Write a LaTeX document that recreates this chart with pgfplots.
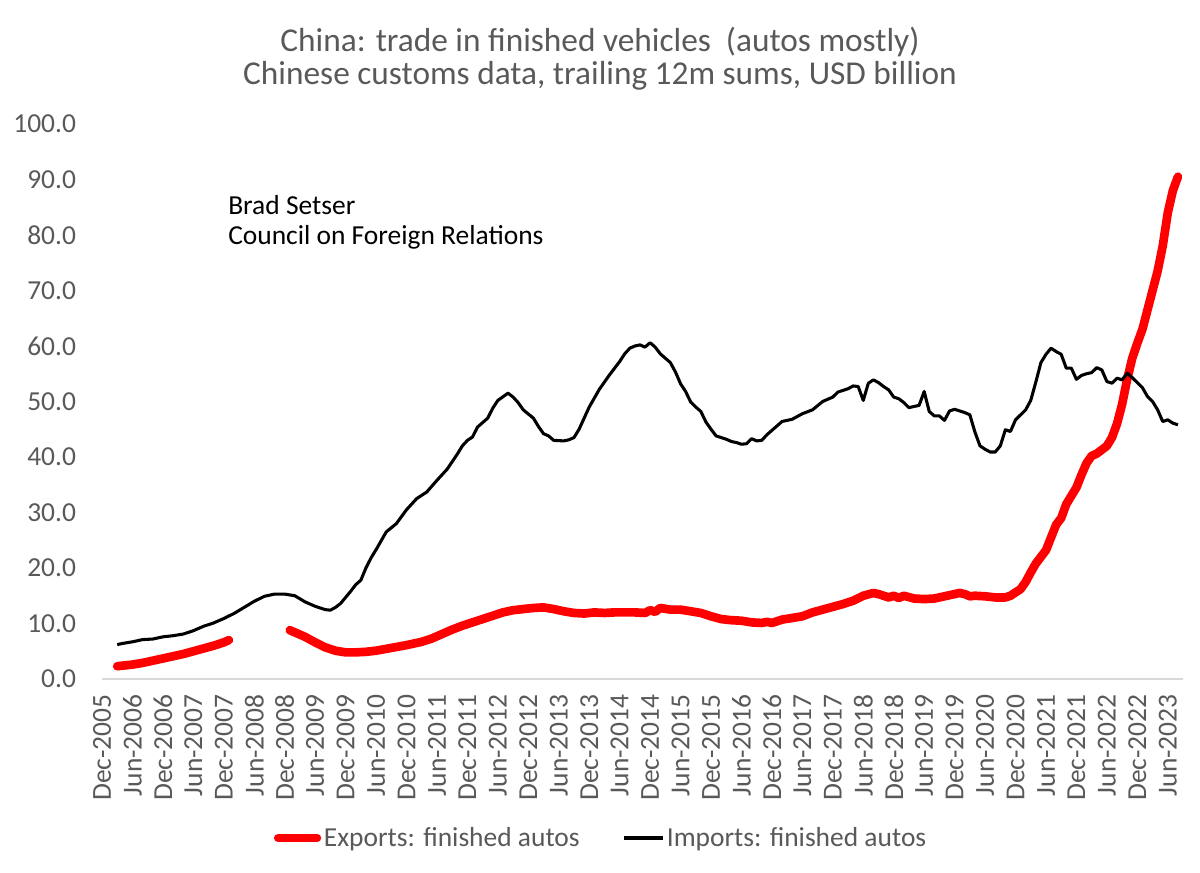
\documentclass[border=0pt]{standalone}
\usepackage{fontspec}
\setmainfont{Carlito}
\usepackage{pgfplots}
\usepackage{pgfplotstable}
\pgfplotsset{compat=1.18}

\definecolor{labelgray}{RGB}{89,89,89}
\definecolor{axisgray}{RGB}{217,217,217}
\definecolor{exportred}{RGB}{255,0,0}

% months counted from Dec-2005 (= 0); trailing 12m sums, USD billion
\pgfplotstableread{
m v
3 2.3
4 2.4
6 2.6
8 2.9
10 3.3
12 3.7
14 4.1
16 4.5
18 5.0
20 5.5
22 6.0
24 6.6
25 7.0
30 nan
37 8.8
38 8.4
40 7.6
42 6.6
44 5.7
46 5.1
48 4.8
50 4.8
52 4.9
54 5.1
57 5.6
60 6.1
63 6.7
65 7.3
67 8.1
69 8.9
71 9.6
73 10.2
75 10.8
77 11.4
79 12.0
81 12.4
83 12.6
85 12.8
87 12.9
89 12.6
91 12.2
93 11.9
95 11.8
97 12.0
99 11.9
101 12.0
103 12.0
105 12.0
107 11.9
108 12.4
109 12.1
110 12.8
112 12.5
114 12.5
116 12.2
118 11.9
120 11.3
122 10.8
124 10.6
126 10.5
128 10.2
130 10.1
131 10.3
132 10.1
134 10.7
136 11.0
138 11.3
140 12.0
142 12.5
144 13.0
146 13.5
148 14.1
150 15.0
152 15.5
153 15.3
155 14.7
156 15.0
157 14.6
158 15.0
160 14.5
162 14.4
164 14.5
166 14.9
168 15.3
169 15.5
170 15.3
171 14.9
172 15.0
174 14.9
176 14.7
178 14.7
179 15.0
180 15.6
181 16.2
182 17.5
183 19.2
184 20.8
185 22.0
186 23.2
187 25.5
188 27.8
189 29.0
190 31.5
191 33.0
192 34.5
193 36.8
194 38.9
195 40.2
196 40.6
197 41.3
198 42.0
199 43.5
200 46.0
201 49.5
202 54.0
203 57.8
204 60.5
205 63.0
206 66.5
207 70.0
208 73.5
209 78.0
210 84.0
211 88.0
212 90.5
}\exports

\pgfplotstableread{
m v
3 6.2
4 6.4
6 6.7
8 7.1
10 7.2
12 7.6
14 7.8
16 8.1
18 8.7
20 9.5
22 10.1
24 10.9
26 11.8
28 12.9
30 14.0
32 14.9
34 15.3
36 15.3
38 15.0
40 13.9
42 13.1
44 12.5
45 12.4
46 12.9
47 13.6
49 15.8
50 17.0
51 17.8
52 20.0
53 21.8
54 23.3
56 26.5
58 28.0
60 30.5
62 32.5
64 33.7
66 35.8
68 37.8
70 40.5
71 42.0
72 43.0
73 43.6
74 45.4
76 47.0
77 48.8
78 50.2
80 51.5
81 50.8
82 49.8
83 48.5
85 47.0
86 45.5
87 44.2
88 43.8
89 43.0
91 42.9
92 43.1
93 43.5
94 45.0
96 49.0
97 50.6
98 52.2
100 54.8
101 56.0
102 57.2
103 58.6
104 59.6
105 60.0
106 60.2
107 59.8
108 60.6
109 59.8
110 58.6
111 57.8
112 57.0
113 55.3
114 53.2
115 51.8
116 49.9
117 49.0
118 48.2
119 46.3
120 45.0
121 43.8
122 43.5
123 43.2
124 42.8
125 42.6
126 42.3
127 42.4
128 43.3
129 42.9
130 43.0
131 44.0
132 44.8
134 46.4
136 46.8
138 47.8
140 48.5
142 50.0
144 50.8
145 51.7
147 52.3
148 52.8
149 52.7
150 50.2
151 53.3
152 53.9
153 53.4
154 52.7
155 52.1
156 50.8
157 50.5
158 49.8
159 48.9
160 49.1
161 49.3
162 51.8
163 48.2
164 47.4
165 47.4
166 46.6
167 48.3
168 48.6
170 48.0
171 47.6
172 44.5
173 42.0
174 41.4
175 40.9
176 40.9
177 42.0
178 44.9
179 44.6
180 46.7
182 48.5
183 50.2
184 53.5
185 57.0
186 58.5
187 59.6
188 59.0
189 58.5
190 56.0
191 56.0
192 54.0
193 54.7
194 55.0
195 55.2
196 56.1
197 55.7
198 53.6
199 53.3
200 54.2
201 53.9
202 55.1
203 54.3
204 53.4
205 52.5
206 50.9
207 50.0
208 48.5
209 46.4
210 46.7
211 46.1
212 45.8
}\imports

\newcommand{\chartfont}{\fontsize{20.6}{25}\selectfont}
\newcommand{\titlefont}{\fontsize{25}{30}\selectfont}

\begin{document}
\begin{tikzpicture}
% page frame
\path[use as bounding box] (-76.5pt,-144.75pt) rectangle (823.5pt,509.25pt);

\begin{axis}[
  at={(0pt,0pt)}, anchor=south west,
  scale only axis,
  width=810.75pt, height=416.25pt,
  xmin=0, xmax=213,
  ymin=0, ymax=100,
  axis x line*=bottom,
  axis y line*=left,
  x axis line style={draw=axisgray, line width=1pt, -},
  y axis line style={draw=none},
  major tick length=0pt,
  xtick={0,6,...,210},
  xticklabels={Dec-2005,Jun-2006,Dec-2006,Jun-2007,Dec-2007,Jun-2008,Dec-2008,Jun-2009,Dec-2009,Jun-2010,Dec-2010,Jun-2011,Dec-2011,Jun-2012,Dec-2012,Jun-2013,Dec-2013,Jun-2014,Dec-2014,Jun-2015,Dec-2015,Jun-2016,Dec-2016,Jun-2017,Dec-2017,Jun-2018,Dec-2018,Jun-2019,Dec-2019,Jun-2020,Dec-2020,Jun-2021,Dec-2021,Jun-2022,Dec-2022,Jun-2023},
  xticklabel style={rotate=90, anchor=east, font=\chartfont, text=labelgray, xshift=-8pt},
  ytick={0,10,...,100},
  yticklabel style={font=\chartfont, text=labelgray, xshift=-16pt},
  yticklabel={\pgfmathprintnumber[fixed,fixed zerofill,precision=1]{\tick}},
  /pgf/number format/assume math mode=true,
  unbounded coords=jump,
  legend columns=2,
  legend style={at={(0.462,-0.2865)}, anchor=center, draw=none, fill=none,
    font=\chartfont, text=labelgray,
    /tikz/every even column/.append style={column sep=30pt},
    inner sep=0pt, cells={anchor=west}},
  legend image code/.code={\draw[#1] (0pt,0pt) -- (29pt,0pt);},
  clip=false,
]
\addplot[exportred, line width=6.5pt, line join=round, line cap=round] table[x=m, y=v] {\exports};
\addlegendentry{Exports: finished autos}
\addplot[black, line width=2.3pt, line join=round] table[x=m, y=v] {\imports};
\addlegendentry{Imports: finished autos}
\end{axis}

% titles and byline
\node[font=\titlefont, text=labelgray] at (373.5pt,477.75pt) {China: trade in finished vehicles\ \ (autos mostly)};
\node[font=\titlefont, text=labelgray] at (373.5pt,452.25pt) {Chinese customs data, trailing 12m sums, USD billion};
\node[font=\chartfont, anchor=west, inner sep=0pt] at (94.5pt,355.5pt) {Brad Setser};
\node[font=\chartfont, anchor=west, inner sep=0pt] at (94.5pt,331.5pt) {Council on Foreign Relations};
\end{tikzpicture}
\end{document}
